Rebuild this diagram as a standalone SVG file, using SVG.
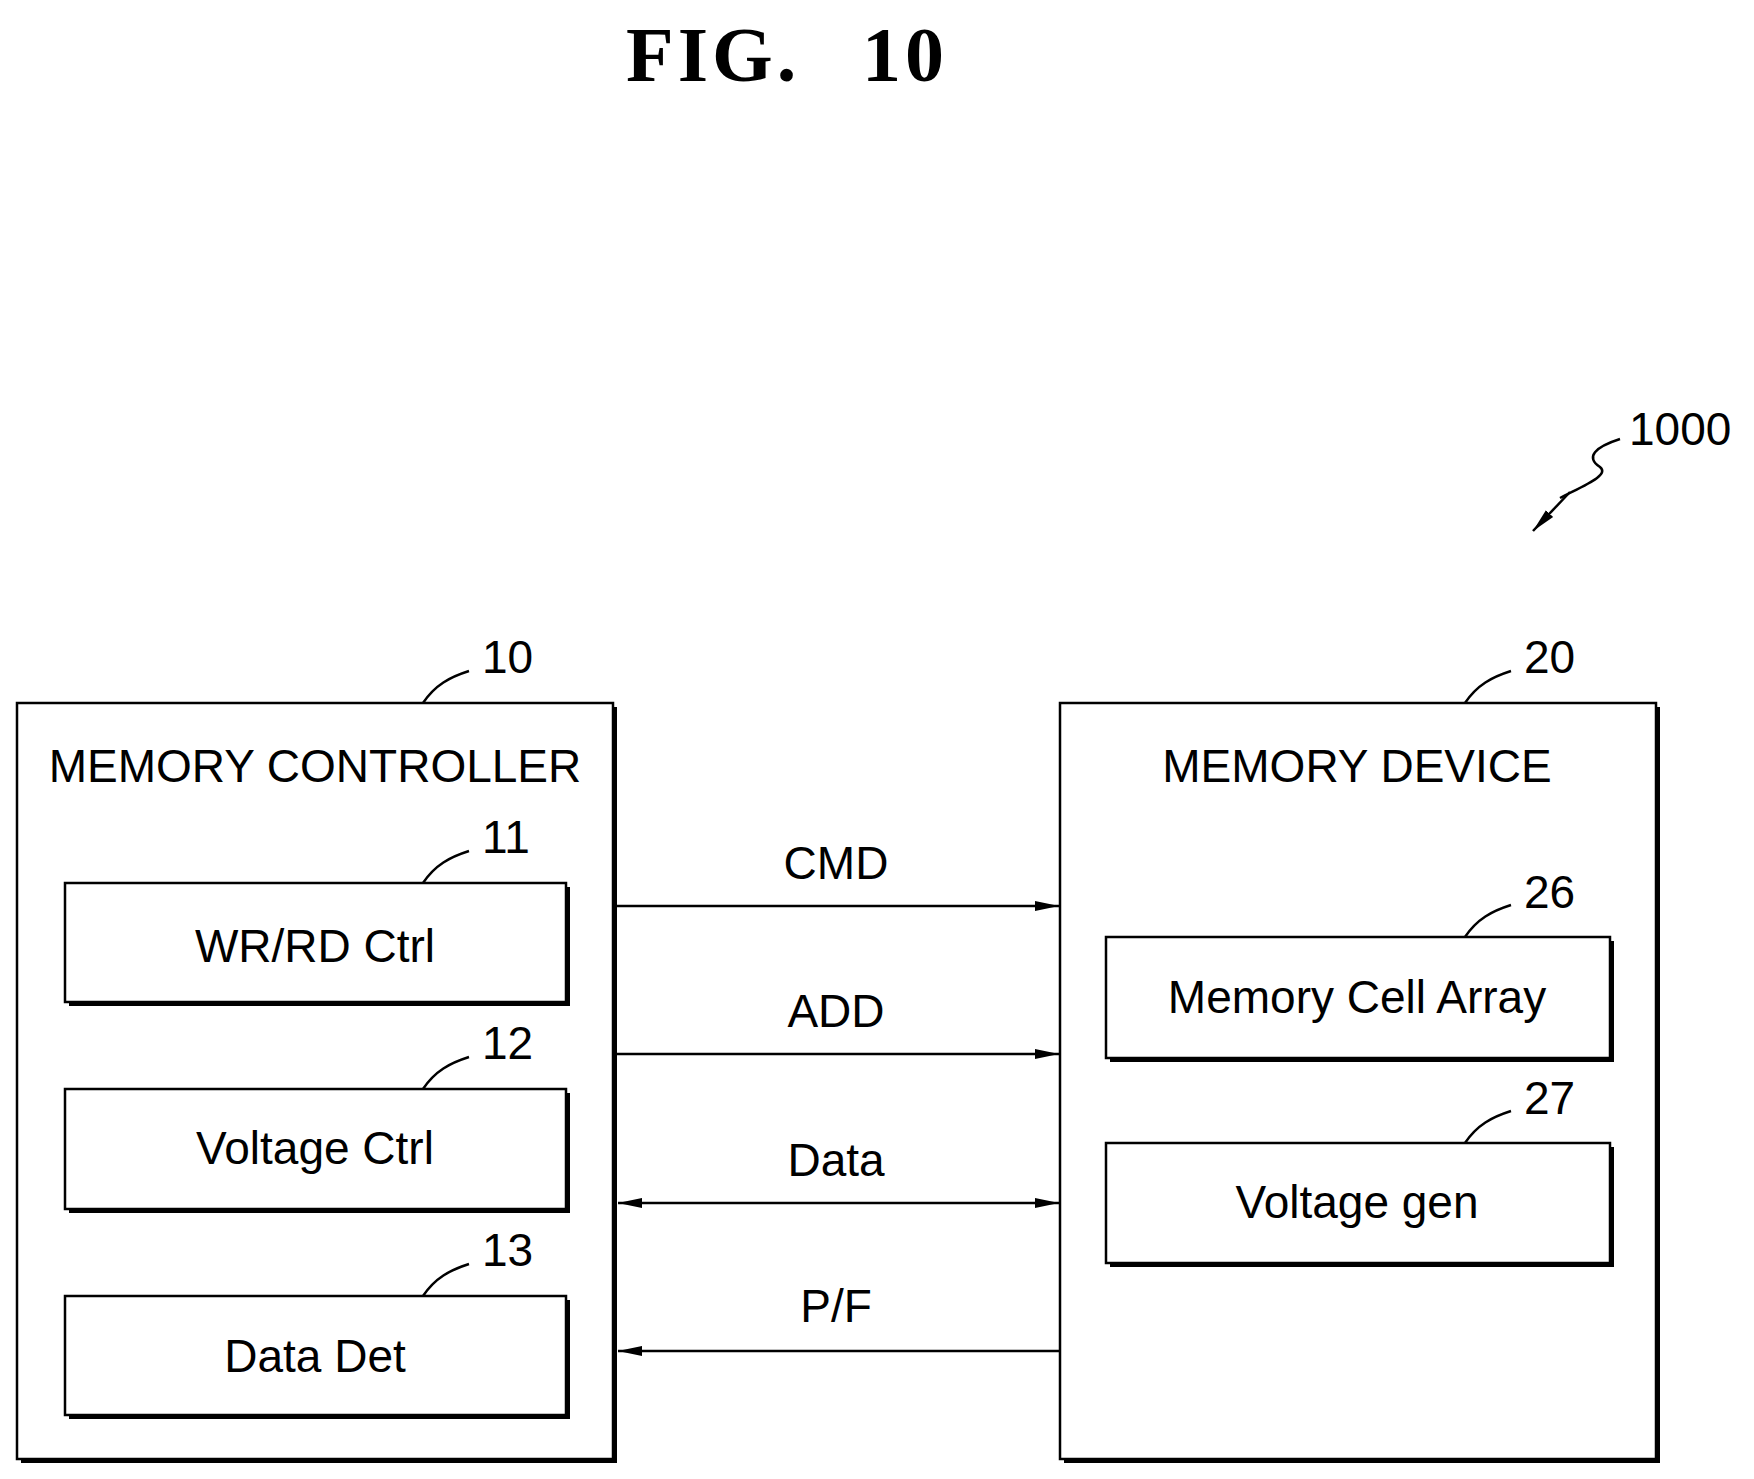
<svg xmlns="http://www.w3.org/2000/svg" width="1754" height="1479" viewBox="0 0 1754 1479">
<style>
.b{fill:#fff;stroke:#000;stroke-width:2.5}
.s{fill:#000}
.t{font-family:"Liberation Sans",Arial,sans-serif;font-size:46px;fill:#000;text-anchor:middle}
.n{font-family:"Liberation Sans",Arial,sans-serif;font-size:46px;fill:#000}
.l{fill:none;stroke:#000;stroke-width:2.5}
</style>
<defs>
<marker id="a" markerWidth="24" markerHeight="12" refX="24" refY="6" orient="auto-start-reverse" markerUnits="userSpaceOnUse"><path d="M0,1 L24,6 L0,11 Z" fill="#000"/></marker>
</defs>
<text x="626" y="81" font-family="Liberation Serif,serif" font-weight="bold" font-size="78" letter-spacing="4">FIG.</text>
<text x="862" y="81" font-family="Liberation Serif,serif" font-weight="bold" font-size="78" letter-spacing="4">10</text>
<g transform="translate(-5,-5)">
<g id="ref1000"><text class="n" x="1634" y="450">1000</text>
<path class="l" d="M1625,444 C1600,452 1590,462 1605,472 C1615,480 1590,490 1565,503" />
<path class="l" d="M1575,497 L1538,536" marker-end="url(#a)"/></g>
<g id="n10"><rect class="s" x="26" y="712" width="596" height="756"/><rect class="b" x="22" y="708" width="596" height="756"/>
<text class="t" x="320" y="787">MEMORY CONTROLLER</text><text class="n" x="487" y="678">10</text><path class="l" d="M428,708 C440,690 455,682 474,676"/></g>
<g id="n11"><rect class="s" x="74" y="892" width="501" height="119"/><rect class="b" x="70" y="888" width="501" height="119"/><text class="t" x="320" y="967">WR/RD Ctrl</text><text class="n" x="487" y="858">11</text><path class="l" d="M428,888 C440,870 455,862 474,856"/></g>
<g id="n12"><rect class="s" x="74" y="1098" width="501" height="120"/><rect class="b" x="70" y="1094" width="501" height="120"/><text class="t" x="320" y="1169">Voltage Ctrl</text><text class="n" x="487" y="1064">12</text><path class="l" d="M428,1094 C440,1076 455,1068 474,1062"/></g>
<g id="n13"><rect class="s" x="74" y="1305" width="501" height="119"/><rect class="b" x="70" y="1301" width="501" height="119"/><text class="t" x="320" y="1377">Data Det</text><text class="n" x="487" y="1271">13</text><path class="l" d="M428,1301 C440,1283 455,1275 474,1269"/></g>
<g id="n20"><rect class="s" x="1069" y="712" width="596" height="756"/><rect class="b" x="1065" y="708" width="596" height="756"/>
<text class="t" x="1362" y="787">MEMORY DEVICE</text><text class="n" x="1529" y="678">20</text><path class="l" d="M1470,708 C1482,690 1497,682 1516,676"/></g>
<g id="n26"><rect class="s" x="1115" y="946" width="504" height="121"/><rect class="b" x="1111" y="942" width="504" height="121"/><text class="t" x="1362" y="1018">Memory Cell Array</text><text class="n" x="1529" y="913">26</text><path class="l" d="M1470,942 C1482,924 1497,916 1516,910"/></g>
<g id="n27"><rect class="s" x="1115" y="1152" width="504" height="120"/><rect class="b" x="1111" y="1148" width="504" height="120"/><text class="t" x="1362" y="1223">Voltage gen</text><text class="n" x="1529" y="1119">27</text><path class="l" d="M1470,1148 C1482,1130 1497,1122 1516,1116"/></g>
<g id="connectors">
<path class="l" d="M622,911 H1064" marker-end="url(#a)"/>
<path class="l" d="M622,1059 H1064" marker-end="url(#a)"/>
<path class="l" d="M623,1208 H1064" marker-start="url(#a)" marker-end="url(#a)"/>
<path class="l" d="M1064,1356 H623" marker-end="url(#a)"/>
<text class="t" x="841" y="884">CMD</text>
<text class="t" x="841" y="1032">ADD</text>
<text class="t" x="841" y="1181">Data</text>
<text class="t" x="841" y="1327">P/F</text>
</g>
</g>
</svg>
